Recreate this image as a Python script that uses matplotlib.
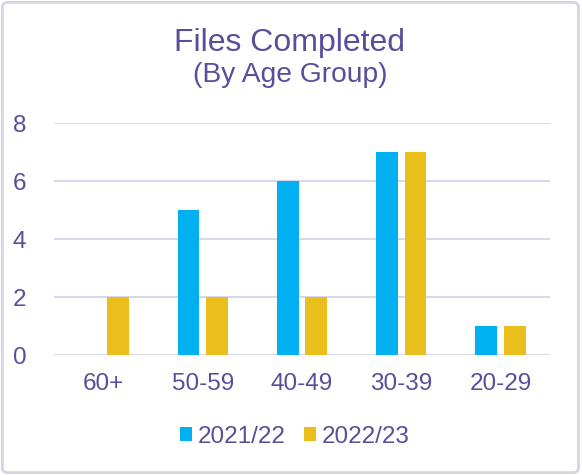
import numpy as np
import matplotlib.pyplot as plt
from matplotlib.patches import FancyBboxPatch

plt.rcParams['font.family'] = ['Liberation Sans', 'DejaVu Sans']

groups = ['60+', '50-59', '40-49', '30-39', '20-29']
files_2122 = [0, 5, 6, 7, 1]
files_2223 = [2, 2, 2, 7, 1]
series_names = ['2021/22', '2022/23']

txt = '#5A4E9C'
grid = '#D9D7EA'
c1 = '#00B0F0'
c2 = '#EBBF1B'

fig = plt.figure(figsize=(5.82, 4.75), dpi=100)
ax = fig.add_axes([0.0928, 0.2526, 0.8522, 0.4884])

x = np.arange(len(groups))
w = 0.22
ax.bar(x - 0.145, files_2122, w, color=c1, label=series_names[0], zorder=3)
ax.bar(x + 0.145, files_2223, w, color=c2, label=series_names[1], zorder=3)

ax.set_xlim(-0.5, len(groups) - 0.5)
ax.set_ylim(0, 8)
ax.set_yticks([0, 2, 4, 6, 8])
ax.set_xticks(x)
ax.set_xticklabels(groups)
ax.tick_params(axis='both', length=0, labelsize=17.5, colors=txt)
ax.tick_params(axis='y', pad=20)
ax.tick_params(axis='x', pad=13)
ax.yaxis.grid(True, color=grid, linewidth=1.5, zorder=0)
for s in ax.spines.values():
    s.set_visible(False)

fig.text(0.498, 0.909, 'Files Completed', ha='center', va='center',
         fontsize=23, color=txt)
fig.text(0.498, 0.842, '(By Age Group)', ha='center', va='center',
         fontsize=20.3, color=txt)

fig.legend(loc='center', bbox_to_anchor=(0.506, 0.08), ncol=2, frameon=False,
           fontsize=17.5, labelcolor=txt, handlelength=0.52, handleheight=0.52,
           handletextpad=0.22, columnspacing=0.75)

# card border
fig.patches.append(FancyBboxPatch((0.004, 0.005), 0.99, 0.99,
                                  boxstyle='round,pad=0,rounding_size=0.01',
                                  transform=fig.transFigure, fill=False,
                                  edgecolor='#D6D3E6', linewidth=2))

fig.savefig('out.png', dpi=100)
